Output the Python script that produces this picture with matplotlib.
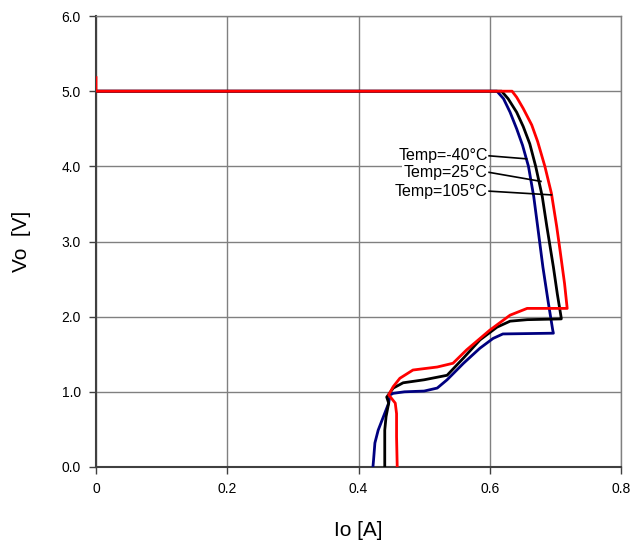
import matplotlib
matplotlib.use("Agg")
import matplotlib.pyplot as plt

plt.rcParams['font.family'] = ['Liberation Sans', 'DejaVu Sans']

# Io [A] / Vo [V] curves, traced from no load to short circuit
io_m40 = [0.0, 0.611, 0.621, 0.631, 0.641, 0.650, 0.659, 0.667, 0.673, 0.681, 0.689,
          0.696, 0.697, 0.62, 0.605, 0.585, 0.56, 0.535, 0.52, 0.50, 0.47,
          0.453, 0.448, 0.446, 0.438, 0.430, 0.425, 0.423, 0.422]
vo_m40 = [5.0, 5.0, 4.90, 4.72, 4.50, 4.28, 4.0, 3.6, 3.2, 2.66, 2.2,
          1.82, 1.78, 1.77, 1.71, 1.58, 1.38, 1.16, 1.05, 1.01, 1.0,
          0.98, 0.96, 0.85, 0.67, 0.49, 0.32, 0.10, 0.0]

io_25 = [0.0, 0.618, 0.628, 0.641, 0.651, 0.661, 0.670, 0.680, 0.687, 0.697, 0.703,
         0.709, 0.709, 0.657, 0.631, 0.611, 0.585, 0.56, 0.535, 0.50, 0.468,
         0.453, 0.443, 0.446, 0.442, 0.44, 0.44]
vo_25 = [5.0, 5.0, 4.90, 4.72, 4.53, 4.30, 4.0, 3.6, 3.2, 2.66, 2.3,
         1.98, 1.97, 1.96, 1.94, 1.86, 1.69, 1.45, 1.22, 1.16, 1.12,
         1.05, 0.93, 0.85, 0.67, 0.49, 0.0]

io_105 = [0.0, 0.0, 0.634, 0.641, 0.651, 0.664, 0.673, 0.684, 0.694, 0.702, 0.707,
          0.714, 0.718, 0.718, 0.657, 0.631, 0.60, 0.565, 0.544, 0.52,
          0.483, 0.463, 0.453, 0.446, 0.456, 0.458, 0.458, 0.459]
vo_105 = [5.18, 5.0, 5.0, 4.92, 4.77, 4.55, 4.33, 4.0, 3.64, 3.2, 2.89,
          2.44, 2.11, 2.11, 2.11, 2.02, 1.82, 1.56, 1.38, 1.33,
          1.29, 1.18, 1.07, 0.96, 0.85, 0.71, 0.40, 0.0]

labels = ["Temp=-40°C", "Temp=25°C", "Temp=105°C"]
label_y = [4.14, 3.92, 3.67]
arrow_tips = [(0.656, 4.10), (0.678, 3.80), (0.694, 3.62)]

fig = plt.figure(figsize=(6.3, 5.47), dpi=100)
ax = fig.add_axes([0.1524, 0.1463, 0.8333, 0.8244])

ax.plot(io_m40, vo_m40, color='#000080', lw=2, zorder=3)
ax.plot(io_25, vo_25, color='black', lw=2, zorder=3)
ax.plot(io_105, vo_105, color='#ff0000', lw=2, zorder=3)

for lab, ly, tip in zip(labels, label_y, arrow_tips):
    ax.text(0.597, ly, lab, ha='right', va='center', fontsize=11.5,
            bbox=dict(facecolor='white', edgecolor='none', pad=1.0), zorder=4)
    ax.plot([0.599, tip[0]], [ly, tip[1]], color='black', lw=1.2, zorder=5)

ax.set_xlim(0, 0.8)
ax.set_ylim(0, 6)
ax.set_xticks([0, 0.2, 0.4, 0.6, 0.8])
ax.set_xticklabels(["0", "0.2", "0.4", "0.6", "0.8"])
ax.set_yticks([0, 1, 2, 3, 4, 5, 6])
ax.set_yticklabels([f"{v:.1f}" for v in range(7)])
ax.grid(True, color='#808080', lw=1)
ax.set_axisbelow(True)

for side in ['top', 'right']:
    ax.spines[side].set_color('#808080')
    ax.spines[side].set_linewidth(1)
for side in ['left', 'bottom']:
    ax.spines[side].set_color('#404040')
    ax.spines[side].set_linewidth(1.5)

ax.tick_params(direction='out', length=5, width=1, color='#404040',
               labelsize=10, pad=6)
ax.set_xlabel("Io [A]", fontsize=15, labelpad=18)
ax.set_ylabel("Vo  [V]", fontsize=15, labelpad=22)

fig.savefig("out.png", dpi=100)
